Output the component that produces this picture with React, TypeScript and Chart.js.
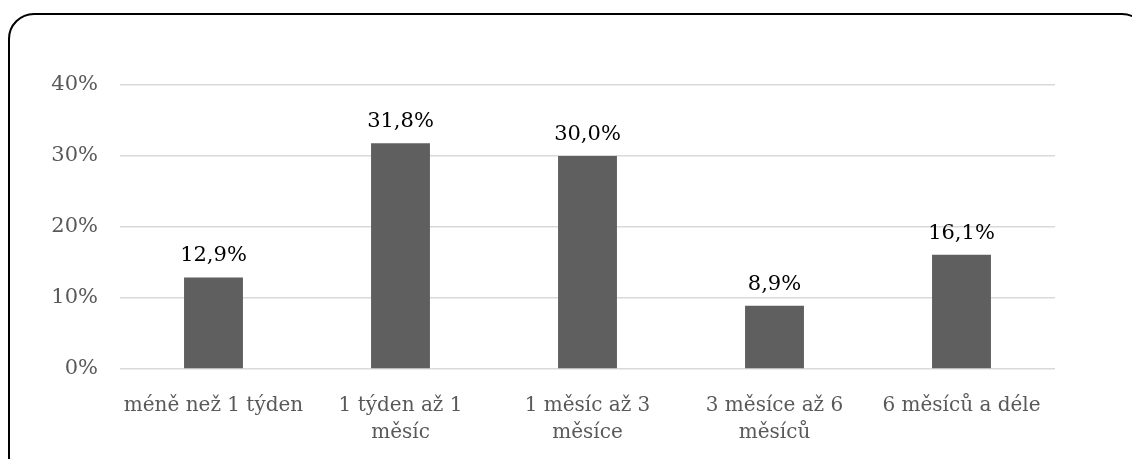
import React, { useEffect, useRef } from "react";
import { Chart, registerables } from "chart.js";

Chart.register(...registerables);

const categories: string[][] = [
  ["méně než 1 týden"],
  ["1 týden až 1", "měsíc"],
  ["1 měsíc až 3", "měsíce"],
  ["3 měsíce až 6", "měsíců"],
  ["6 měsíců a déle"],
];
const values: number[] = [12.9, 31.8, 30.0, 8.9, 16.1];
const yTicks: number[] = [0, 10, 20, 30, 40];

const FONT = "'DejaVu Serif', serif";

const fmt = (v: number) => v.toFixed(1).replace(".", ",") + "%";

const labelPlugin = {
  id: "barLabels",
  afterDatasetsDraw(chart: any) {
    const ctx = chart.ctx;
    const meta = chart.getDatasetMeta(0);
    ctx.save();
    ctx.font = `21px ${FONT}`;
    ctx.fillStyle = "#000000";
    ctx.textAlign = "center";
    ctx.textBaseline = "alphabetic";
    meta.data.forEach((bar: any, i: number) => {
      ctx.fillText(fmt(values[i]), bar.x, bar.y - 16);
    });
    ctx.restore();
  },
};

export default function App() {
  const ref = useRef<HTMLCanvasElement | null>(null);
  useEffect(() => {
    if (!ref.current) return;
    const chart = new Chart(ref.current, {
      type: "bar",
      data: {
        labels: categories,
        datasets: [
          {
            data: values,
            backgroundColor: "#5f5f5f",
            barPercentage: 0.315,
            categoryPercentage: 1,
          },
        ],
      },
      options: {
        animation: false,
        responsive: false,
        maintainAspectRatio: false,
        layout: { padding: { left: 0, right: 77, top: 85, bottom: 0 } },
        plugins: { legend: { display: false }, tooltip: { enabled: false } },
        scales: {
          x: {
            grid: { display: false },
            border: { display: false },
            ticks: {
              color: "#595959",
              font: { family: FONT, size: 20, lineHeight: 1.35 },
              padding: 15,
              maxRotation: 0,
              autoSkip: false,
            },
            afterFit: (s: any) => {
              s.height = 90;
            },
          },
          y: {
            min: 0,
            max: 40,
            afterBuildTicks: (s: any) => {
              s.ticks = yTicks.map((v) => ({ value: v }));
            },
            grid: { color: "#d9d9d9", lineWidth: 1.5, drawTicks: false },
            border: { display: false },
            ticks: {
              color: "#595959",
              font: { family: FONT, size: 21 },
              padding: 22,
              callback: (v: any) => v + "%",
            },
            afterFit: (s: any) => {
              s.width = 120;
            },
          },
        },
      },
      plugins: [labelPlugin],
    });
    return () => chart.destroy();
  }, []);
  return (
    <div style={{ position: "fixed", left: 0, top: 0, width: 1132, height: 459, overflow: "hidden", background: "#fff" }}>
      <div
        style={{
          position: "absolute",
          left: 8,
          top: 13,
          width: 1140,
          height: 470,
          border: "2px solid #000",
          borderRadius: 26,
          boxSizing: "border-box",
        }}
      />
      <canvas ref={ref} width={1132} height={459} style={{ position: "absolute", left: 0, top: 0 }} />
    </div>
  );
}
